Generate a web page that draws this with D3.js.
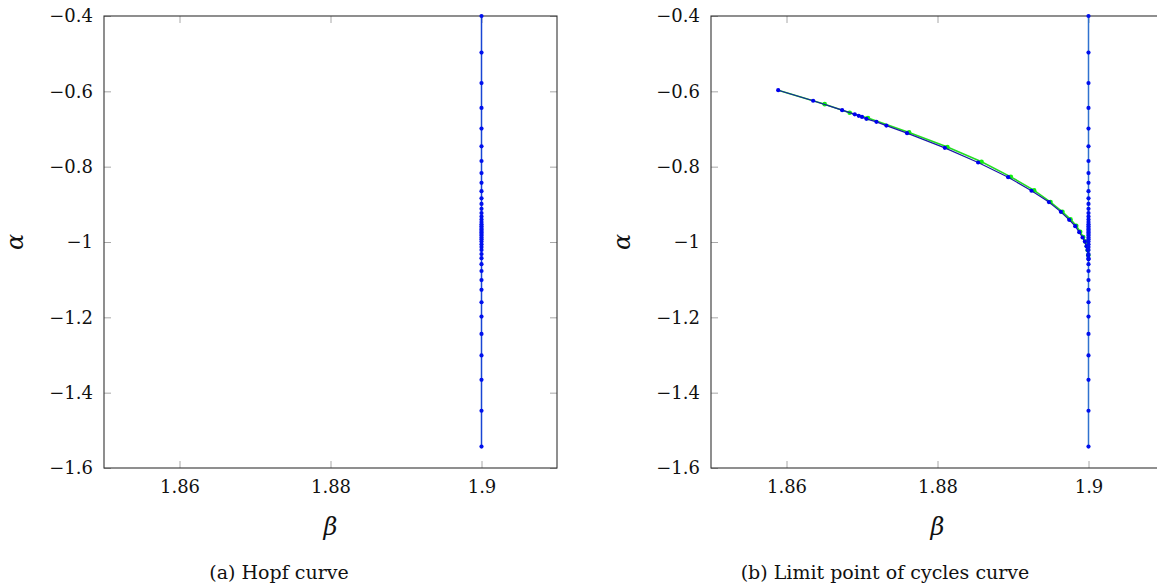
<!DOCTYPE html>
<html>
<head>
<meta charset="utf-8">
<script src="https://cdn.jsdelivr.net/npm/d3@7"></script>
<style>
  html, body { margin: 0; padding: 0; background: #fff; }
  svg { display: block; }
  text { font-family: "DejaVu Serif"; fill: #111; }
</style>
</head>
<body>
<svg id="chart" width="1157" height="588"></svg>
<script>
// Hopf curve: beta is constant, alpha varies along the continuation
const hopfBeta = 1.9;
const hopfAlpha = [-0.4, -0.497, -0.578, -0.644, -0.699, -0.746, -0.785, -0.817, -0.843,
  -0.865, -0.884, -0.899, -0.912, -0.923, -0.932, -0.940, -0.947, -0.953, -0.958, -0.963,
  -0.967, -0.971, -0.975, -0.979, -0.983, -0.988, -0.993, -0.999, -1.006, -1.013, -1.021,
  -1.032, -1.043, -1.059, -1.077, -1.101, -1.127, -1.160, -1.198, -1.244, -1.301, -1.366,
  -1.448, -1.543];

// Limit point of cycles curve (blue continuation)
const lpcBeta = [1.8589, 1.86353, 1.86737, 1.86904, 1.86957, 1.8700, 1.87058, 1.87191,
  1.87323, 1.87597, 1.88097, 1.88538, 1.88936, 1.89245, 1.89475, 1.89634, 1.89744,
  1.89824, 1.89877, 1.89921, 1.89952, 1.89974, 1.89987, 1.89996, 1.9];
const lpcAlpha = [-0.597, -0.625, -0.650, -0.661, -0.665, -0.668, -0.673, -0.681,
  -0.691, -0.711, -0.750, -0.789, -0.828, -0.864, -0.894, -0.920, -0.941,
  -0.958, -0.974, -0.988, -0.999, -1.011, -1.021, -1.035, -1.046];

// Limit point of cycles curve (green continuation)
const lpcGreenBeta = [1.8589, 1.86506, 1.86837, 1.87079, 1.87624, 1.88131, 1.88583,
  1.88971, 1.89280, 1.89497, 1.89655, 1.89762, 1.89838, 1.89890, 1.89930, 1.89958,
  1.89978, 1.89990, 1.89997, 1.9];
const lpcGreenAlpha = [-0.597, -0.634, -0.657, -0.671, -0.709, -0.748, -0.787,
  -0.827, -0.863, -0.894, -0.920, -0.940, -0.957, -0.973, -0.987, -0.999,
  -1.011, -1.022, -1.035, -1.046];

const xTicks = [1.86, 1.88, 1.9];
const xTickLabels = ["1.86", "1.88", "1.9"];
const yTicks = [-1.6, -1.4, -1.2, -1, -0.8, -0.6, -0.4];
const yTickLabels = ["\u22121.6", "\u22121.4", "\u22121.2", "\u22121", "\u22120.8", "\u22120.6", "\u22120.4"];
const captions = ["(a) Hopf curve", "(b) Limit point of cycles curve"];

const svg = d3.select("#chart");

const panels = [
  { x0: 104, x1: 557, capX: 279, hopfColor: "#1846d4", lpc: false },
  { x0: 711, x1: 1164, capX: 885, hopfColor: "#2f72cf", lpc: true }
];
const yTop = 16, yBot = 468;
const tick = 7;

panels.forEach((p, i) => {
  const x = d3.scaleLinear().domain([1.85, 1.91]).range([p.x0, p.x1]);
  const y = d3.scaleLinear().domain([-1.6, -0.4]).range([yBot, yTop]);
  const g = svg.append("g");

  const styleAxis = sel => {
    sel.select(".domain").remove();
    sel.selectAll(".tick line").attr("stroke", "#a8a8a8").attr("stroke-width", 1);
    sel.selectAll(".tick text")
      .style("font-family", "'DejaVu Serif'")
      .style("font-size", "18px")
      .attr("fill", "#111");
  };

  g.append("g").attr("transform", `translate(0,${yBot})`)
    .call(d3.axisBottom(x).tickValues(xTicks).tickSize(-tick).tickPadding(12)
      .tickFormat((d, k) => xTickLabels[k]))
    .call(styleAxis);
  g.append("g").attr("transform", `translate(0,${yTop})`)
    .call(d3.axisTop(x).tickValues(xTicks).tickSize(-tick).tickFormat(""))
    .call(styleAxis);
  g.append("g").attr("transform", `translate(${p.x0},0)`)
    .call(d3.axisLeft(y).tickValues(yTicks).tickSize(-tick).tickPadding(11)
      .tickFormat((d, k) => yTickLabels[k]))
    .call(styleAxis);
  g.append("g").attr("transform", `translate(${p.x1},0)`)
    .call(d3.axisRight(y).tickValues(yTicks).tickSize(-tick).tickFormat(""))
    .call(styleAxis);

  // frame
  g.append("rect")
    .attr("x", p.x0).attr("y", yTop)
    .attr("width", p.x1 - p.x0).attr("height", yBot - yTop)
    .attr("fill", "none").attr("stroke", "#333").attr("stroke-width", 1.1);

  const line = d3.line().x(d => x(d[0])).y(d => y(d[1]));

  if (p.lpc) {
    const green = lpcGreenBeta.map((b, k) => [b, lpcGreenAlpha[k]]);
    g.append("path").datum(green).attr("d", line)
      .attr("fill", "none").attr("stroke", "#22dd22").attr("stroke-width", 1.6);
    g.selectAll(".gpt").data(green.slice(1, -1)).join("circle")
      .attr("cx", d => x(d[0])).attr("cy", d => y(d[1])).attr("r", 2.3)
      .attr("fill", "#11ee11");
  }

  const hopf = hopfAlpha.map(a => [hopfBeta, a]);
  g.append("path").datum(hopf).attr("d", line)
    .attr("fill", "none").attr("stroke", p.hopfColor).attr("stroke-width", 1.5);

  if (p.lpc) {
    const blue = lpcBeta.map((b, k) => [b, lpcAlpha[k]]);
    g.append("path").datum(blue).attr("d", line)
      .attr("fill", "none").attr("stroke", "#1a1aa6").attr("stroke-width", 1.2);
    g.selectAll(".bpt").data(blue).join("circle")
      .attr("cx", d => x(d[0])).attr("cy", d => y(d[1])).attr("r", 2.1)
      .attr("fill", "#0000ee");
  }

  g.selectAll(".hpt").data(hopf).join("circle")
    .attr("cx", d => x(d[0])).attr("cy", d => y(d[1])).attr("r", 2.1)
    .attr("fill", "#0010ee");

  // axis labels
  const cx = (p.x0 + p.x1) / 2;
  g.append("text").attr("x", cx).attr("y", 535)
    .attr("text-anchor", "middle").style("font-size", "24px").style("font-style", "italic")
    .text("\u03b2");
  g.append("text")
    .attr("transform", `translate(${p.x0 - 81},${(yTop + yBot) / 2}) rotate(-90)`)
    .attr("text-anchor", "middle").style("font-size", "24px").style("font-style", "italic")
    .text("\u03b1");

  // caption
  g.append("text").attr("x", p.capX).attr("y", 579)
    .attr("text-anchor", "middle").style("font-size", "19px")
    .text(captions[i]);
});
</script>
</body>
</html>
